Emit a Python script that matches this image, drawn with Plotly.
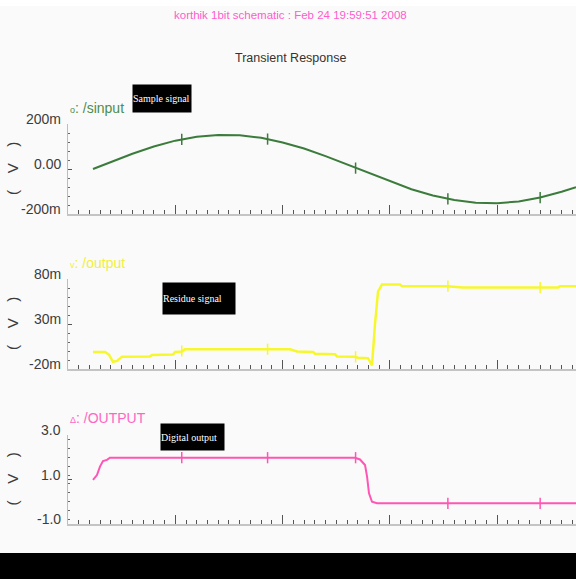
import plotly.graph_objects as go

W, H = 576, 579

# ---- data (time in ns, x axis 0..473 ns, major division = 100 ns) ----
sin_t = [23.3, 40, 60, 80, 100, 120, 140, 160, 180, 200, 220, 240, 260, 280,
         300, 320, 340, 360, 380, 400, 420, 440, 460, 473.4]
sin_mv = [0, 32, 68, 100, 126, 143, 151, 150, 139, 118, 91, 57, 20, -19,
          -56, -90, -118, -138, -150, -152, -144, -127, -101, -81]

res_t = [23.3, 34.5, 38.2, 41.9, 45.7, 50.3, 76.4, 78.3, 97.9, 99.7, 106.2, 109.0,
         206.9, 213.4, 228.3, 230.2, 248.8, 250.7, 267.5, 270.3, 279.6, 283.3,
         286.1, 288.9, 292.6, 309.4, 311.3, 353.2, 368.1, 456.7, 458.5, 473.4]
res_mv = [-1, -1, -4, -12, -11, -6.5, -6, -4.5, -4, -1, -0.5, 2,
          2, -0.5, -1, -3, -3.5, -6, -6.5, -7.5, -8, -16,
          30, 66, 74, 74, 72, 72, 70.5, 70.5, 72, 72]

dig_t = [23.3, 27.0, 29.8, 32.6, 36.3, 39.1, 267.5, 272.1, 276.8, 278.7,
         280.5, 283.3, 288.0, 473.4]
dig_v = [0.98, 1.2, 1.58, 1.83, 1.88, 1.98, 1.98, 1.9, 1.65, 1.13,
         0.38, 0.0, -0.07, -0.07]

mark_t = [106, 186, 268, 354, 440]
sin_mark = [132, 133, 4, -133, -127]
res_mark = [0, 2, -6.5, 72, 70.5]
dig_mark = [1.98, 1.98, 1.98, -0.07, -0.07]

x_range = [0, 473.4]

y1_ticks = [-200, 0, 200]
y1_text = ["-200m", "0.00", "200m"]
y2_ticks = [-20, 30, 80]
y2_text = ["-20m", "30m", "80m"]
y3_ticks = [-1.0, 1.0, 3.0]
y3_text = ["-1.0", "1.0", "3.0"]

GREEN = "#3b7b3b"
YELLOW = "#f7f72e"
PINK = "#ff55b4"
SANS = "Liberation Sans, Arial, sans-serif"
SERIF = "Liberation Serif, Times New Roman, serif"


def py(px):
    return (H - px) / H


fig = go.Figure()

panels = [
    (sin_t, sin_mv, sin_mark, GREEN, 2, "x", "y"),
    (res_t, res_mv, res_mark, YELLOW, 2.5, "x2", "y2"),
    (dig_t, dig_v, dig_mark, PINK, 2, "x3", "y3"),
]
for t, v, mk, col, lw, xa, ya in panels:
    fig.add_trace(go.Scatter(x=t, y=v, mode="lines", line=dict(color=col, width=lw),
                             xaxis=xa, yaxis=ya, showlegend=False, hoverinfo="skip"))
    fig.add_trace(go.Scatter(x=mark_t, y=mk, mode="markers",
                             marker=dict(symbol="line-ns-open", size=8, color=col,
                                         line=dict(color=col, width=1.5)),
                             xaxis=xa, yaxis=ya, showlegend=False, hoverinfo="skip"))

xcommon = dict(domain=[68 / W, 1], range=x_range, showline=True, linecolor="#c4c4c4",
               linewidth=2, ticks="inside", ticklen=9, tickwidth=1, tickcolor="#555",
               tick0=0, dtick=100, showticklabels=False, showgrid=False, zeroline=False,
               minor=dict(ticks="inside", ticklen=4, dtick=10, tickcolor="#555",
                          tickwidth=1, showgrid=False),
               fixedrange=True)


def ycommon(dom, rng, tv, mdt):
    return dict(domain=dom, range=rng, tickvals=tv, showticklabels=False, showline=True,
                linecolor="#bdbdbd", linewidth=1, ticks="inside", ticklen=4,
                tickcolor="#555", tickwidth=1, showgrid=False, zeroline=False,
                minor=dict(ticks="inside", ticklen=2, dtick=mdt, tickcolor="#666",
                           showgrid=False),
                fixedrange=True)


fig.update_layout(
    width=W, height=H, autosize=False,
    margin=dict(l=0, r=0, t=0, b=0),
    paper_bgcolor="#fafafa", plot_bgcolor="#fafafa",
    xaxis=dict(xcommon, anchor="y"),
    xaxis2=dict(xcommon, anchor="y2"),
    xaxis3=dict(xcommon, anchor="y3"),
    yaxis=ycommon([py(214), py(124)], [-200, 200], y1_ticks, 40),
    yaxis2=ycommon([py(369), py(279)], [-20, 80], y2_ticks, 10),
    yaxis3=ycommon([py(524), py(435)], [-1.0, 3.0], y3_ticks, 0.4),
)

fig.add_shape(type="rect", xref="paper", yref="paper", x0=0, x1=1, y0=py(6), y1=1,
              fillcolor="white", line_width=0, layer="below")
fig.add_shape(type="rect", xref="paper", yref="paper", x0=0, x1=1, y0=0, y1=py(553),
              fillcolor="black", line_width=0)

ann = []
# y tick labels, placed on the axes' own scales, slightly above each tick
for yref, tv, tt in [("y", y1_ticks, y1_text), ("y2", y2_ticks, y2_text),
                     ("y3", y3_ticks, y3_text)]:
    for v, s in zip(tv, tt):
        ann.append(dict(text=s, x=63 / W, xref="paper", y=v, yref=yref, yshift=5,
                        xanchor="right", yanchor="middle", showarrow=False,
                        font=dict(family=SANS, size=14, color="#3c3c3c")))

top = []
top.append(dict(text="korthik 1bit schematic : Feb 24 19:59:51 2008", x=290 / W, y=py(15),
                xanchor="center", yanchor="middle",
                font=dict(family=SANS, size=11.5, color="#ff5ccc")))
top.append(dict(text="Transient Response", x=290 / W, y=py(58),
                xanchor="center", yanchor="middle",
                font=dict(family=SANS, size=12.5, color="#333333")))
for txt, yc, col in [("<span style='font-size:9px'>o</span>: /sinput", 108, "#4d8d4d"),
                     ("<span style='font-size:9px'>v</span>: /output", 263, "#f0f03a"),
                     ("<span style='font-size:9px'>\u0394</span>: /OUTPUT", 418, "#ff66c4")]:
    top.append(dict(text=txt, x=68 / W, y=py(yc), xanchor="left", yanchor="middle",
                    font=dict(family=SANS, size=14, color=col)))
for yc in [169, 324, 479.5]:
    top.append(dict(text="(    V    )", x=12 / W, y=py(yc), textangle=-90,
                    xanchor="center", yanchor="middle",
                    font=dict(family=SANS, size=15, color="#3c3c3c")))
for txt, x0, x1, y0, y1 in [("Sample signal", 132, 190, 84, 111),
                            ("Residue signal", 162, 234, 282, 313),
                            ("Digital output", 160, 223, 423, 449)]:
    top.append(dict(text=txt, x=x0 / W, y=py(y0), xanchor="left", yanchor="top",
                    width=x1 - x0, height=y1 - y0, align="left", valign="middle",
                    bgcolor="black", borderpad=0,
                    font=dict(family=SERIF, size=10, color="white")))
for a in top:
    a.update(xref="paper", yref="paper", showarrow=False)
fig.update_layout(annotations=ann + top)

post = ("var de=document.documentElement, b=document.body;"
        "de.style.margin='0'; de.style.padding='0'; de.style.overflow='hidden';"
        "b.style.margin='0'; b.style.padding='0'; b.style.overflow='hidden';"
        "b.style.lineHeight='0'; b.style.fontSize='0';"
        "window.scrollTo(0,0);")
fig.write_html("out.html", config={"displayModeBar": False}, post_script=post)
